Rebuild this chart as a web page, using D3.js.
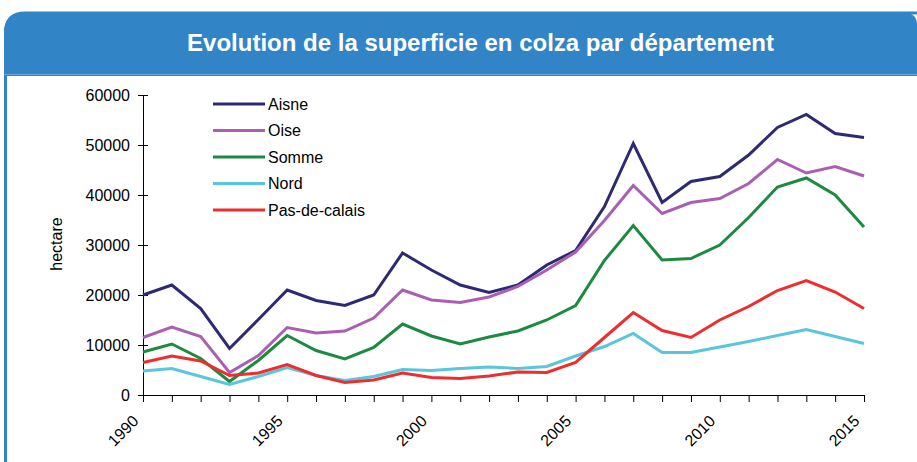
<!DOCTYPE html>
<html>
<head>
<meta charset="utf-8">
<script src="https://cdn.jsdelivr.net/npm/d3@7/dist/d3.min.js"></script>
<style>
  html, body { margin: 0; padding: 0; background: #fff; }
  svg { display: block; font-family: "Liberation Sans", Arial, sans-serif; }
</style>
</head>
<body>
<svg id="chart" width="917" height="462"></svg>
<script>
const title = "Evolution de la superficie en colza par département";
const yAxisLabel = "hectare";
const years = d3.range(1990, 2016);
const yearLabels = [1990, 1995, 2000, 2005, 2010, 2015];
const yTicks = [0, 10000, 20000, 30000, 40000, 50000, 60000];

const seriesNames = ["Aisne", "Oise", "Somme", "Nord", "Pas-de-calais"];
const aisne = [20000, 22000, 17300, 9300, 15100, 21000, 18900, 17900, 20000, 28400, 25000, 22000, 20500, 22000, 26000, 28900, 37700, 50300, 38500, 42700, 43700, 48000, 53500, 56100, 52300, 51500];
const oise = [11500, 13600, 11700, 4500, 7900, 13500, 12400, 12800, 15400, 21000, 19000, 18500, 19600, 21700, 25000, 28600, 34900, 41900, 36300, 38500, 39300, 42300, 47100, 44400, 45700, 43800];
const somme = [8600, 10200, 7300, 2700, 6900, 11900, 8900, 7200, 9500, 14200, 11800, 10200, 11600, 12800, 15000, 17900, 26900, 33900, 27000, 27300, 30000, 35500, 41600, 43400, 40000, 33600];
const nord = [4800, 5300, 3700, 2100, 3700, 5500, 3900, 2900, 3700, 5100, 4900, 5300, 5600, 5300, 5700, 7800, 9700, 12300, 8500, 8500, 9600, 10700, 11900, 13100, 11700, 10300];
const pasDeCalais = [6500, 7800, 6800, 3900, 4400, 6100, 3900, 2500, 3000, 4400, 3500, 3300, 3800, 4600, 4500, 6500, 11500, 16500, 12900, 11500, 15000, 17700, 20900, 22900, 20600, 17300];
const seriesValues = [aisne, oise, somme, nord, pasDeCalais];
const seriesColors = ["#2e2a72", "#ab5fb3", "#1d8a42", "#5ac6dc", "#ee2e2e"];

const svg = d3.select("#chart");

// Panel frame
const blue = "#3184c6";
svg.append("path")
  .attr("d", "M5.5,33 Q5.5,13 25.5,13 L930,13 L930,470 L5.5,470 Z")
  .attr("fill", "#fff").attr("stroke", blue).attr("stroke-width", 3);
svg.append("path")
  .attr("d", "M4,33 Q4,13 24,13 L905,13 Q917,13 917,25 L917,76 L4,76 Z")
  .attr("fill", blue);
svg.append("line").attr("x1", 4).attr("x2", 917).attr("y1", 74.5).attr("y2", 74.5)
  .attr("stroke", "#6aa6dc").attr("stroke-width", 1);

svg.append("text")
  .attr("x", 480.5).attr("y", 51)
  .attr("text-anchor", "middle")
  .attr("fill", "#fff")
  .attr("font-weight", "bold")
  .attr("font-size", 24)
  .text(title);

const x = d3.scaleLinear().domain([1990, 2015]).range([143, 864]);
const y = d3.scaleLinear().domain([0, 60000]).range([395, 95]);

// Y axis
const yAxis = svg.append("g").attr("transform", "translate(143,0)")
  .call(d3.axisLeft(y).tickValues(yTicks).tickSize(5).tickPadding(8).tickFormat(d3.format("d")));
yAxis.select(".domain").attr("stroke", "#000");
yAxis.selectAll(".tick line").attr("x1", 5).attr("x2", -5).attr("stroke", "#000");
yAxis.selectAll(".tick text").attr("font-size", 16).attr("fill", "#000")
  .attr("font-family", "Liberation Sans, Arial, sans-serif");

// X axis
const xAxis = svg.append("g").attr("transform", "translate(0,395)")
  .call(d3.axisBottom(x).tickValues(years).tickSize(7).tickSizeOuter(0)
    .tickFormat(d => yearLabels.includes(d) ? String(d) : ""));
xAxis.select(".domain").attr("stroke", "#000");
xAxis.selectAll(".tick line").attr("stroke", "#000");
xAxis.selectAll(".tick text")
  .attr("font-size", 16).attr("fill", "#000")
  .attr("font-family", "Liberation Sans, Arial, sans-serif")
  .attr("text-anchor", "end")
  .attr("dy", "0")
  .attr("transform", "translate(-11,20) rotate(-45)");

// Y label
svg.append("text")
  .attr("transform", "translate(62,244) rotate(-90)")
  .attr("text-anchor", "middle")
  .attr("font-size", 16)
  .attr("fill", "#000")
  .text(yAxisLabel);

// Lines
const line = d3.line().x((d, i) => x(years[i])).y(d => y(d));
seriesValues.forEach((vals, k) => {
  svg.append("path")
    .datum(vals)
    .attr("d", line)
    .attr("fill", "none")
    .attr("stroke", seriesColors[k])
    .attr("stroke-width", 3)
    .attr("stroke-linejoin", "miter");
});

// Legend
const legendY = d3.scaleLinear().domain([0, 4]).range([104, 210]);
seriesNames.forEach((name, k) => {
  const ly = legendY(k);
  svg.append("line")
    .attr("x1", 213).attr("x2", 265).attr("y1", ly).attr("y2", ly)
    .attr("stroke", seriesColors[k]).attr("stroke-width", 3);
  svg.append("text")
    .attr("x", 268).attr("y", ly).attr("dy", "0.36em")
    .attr("font-size", 16).attr("fill", "#000")
    .text(name);
});
</script>
</body>
</html>
